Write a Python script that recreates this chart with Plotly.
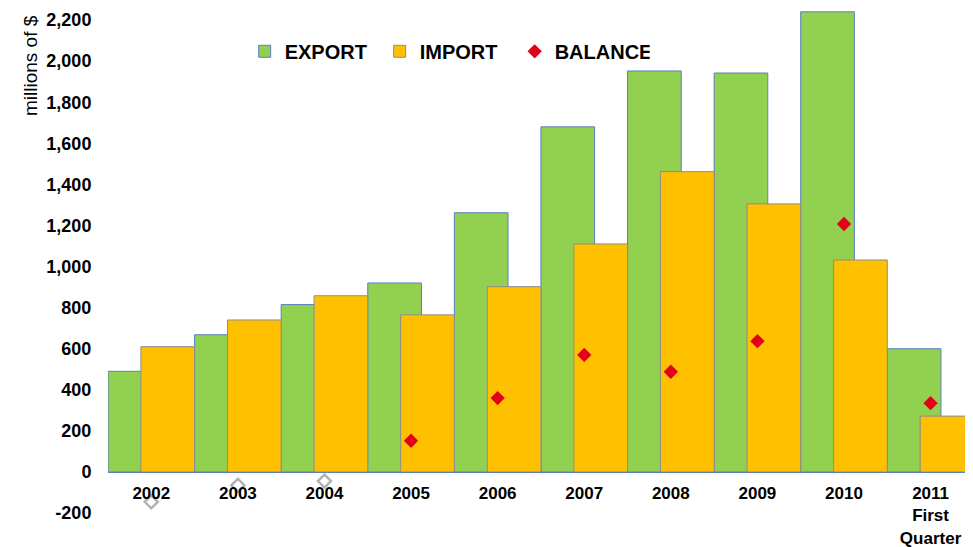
import plotly.graph_objects as go

categories = ["2002", "2003", "2004", "2005", "2006", "2007", "2008", "2009", "2010",
              "2011<br>First<br>Quarter"]
export_vals = [490, 668, 815, 920, 1262, 1680, 1952, 1942, 2240, 600]
import_vals = [610, 740, 858, 765, 902, 1110, 1462, 1305, 1032, 272]
balance_vals = [-145, -65, -44, 152, 360, 570, 488, 637, 1207, 335]
y_ticks = [-200, 0, 200, 400, 600, 800, 1000, 1200, 1400, 1600, 1800, 2000, 2200]

FONT = "Liberation Sans"
# page body has an 8px margin, so the figure is sized/offset to compensate
W, H = 965, 539
M_L, M_R, M_T, M_B = 100, 0, 0, 22
Y_MIN, Y_MAX = -258, 2258.5

pos_bal = [v if v >= 0 else None for v in balance_vals]
neg_bal = [v if v < 0 else None for v in balance_vals]

fig = go.Figure()
fig.add_trace(go.Bar(
    x=categories, y=export_vals, name="EXPORT",
    offset=-0.5, width=0.62,
    marker=dict(color="#92D050", line=dict(color="#5B7FBF", width=1)),
))
fig.add_trace(go.Bar(
    x=categories, y=import_vals, name="IMPORT",
    offset=-0.12, width=0.62,
    marker=dict(color="#FFC000", line=dict(color="#8C8C8C", width=1)),
))
fig.add_trace(go.Scatter(
    x=categories, y=pos_bal, name="BALANCE", mode="markers",
    marker=dict(symbol="diamond", size=11, color="#E2001A"),
))
fig.add_trace(go.Scatter(
    x=categories, y=neg_bal, name="BALANCE (neg)", mode="markers", showlegend=False,
    marker=dict(symbol="diamond", size=10, color="white",
                line=dict(color="#B3B3B3", width=2.5)),
))

plot_w = W - M_L - M_R
plot_h = H - M_T - M_B
zero_pos = (0 - Y_MIN) / (Y_MAX - Y_MIN)

fig.update_layout(
    width=W, height=H,
    margin=dict(l=M_L, r=M_R, t=M_T, b=M_B, autoexpand=False),
    paper_bgcolor="white", plot_bgcolor="white",
    barmode="overlay",
    font=dict(family=FONT, color="black"),
    showlegend=True,
    legend=dict(
        orientation="h", x=0.158, y=0.954, xanchor="left", yanchor="top",
        font=dict(family=FONT, size=20, weight="bold", color="black"),
        bgcolor="rgba(0,0,0,0)", entrywidth=90, entrywidthmode="pixels",
        traceorder="normal",
    ),
    xaxis=dict(
        type="category", range=[-0.5, 9.49],
        anchor="free", position=zero_pos,
        showgrid=False, zeroline=False,
        showline=True, linecolor="#5B7FBF", linewidth=1,
        ticks="outside", ticklen=6, tickcolor="rgba(0,0,0,0)",
        tickfont=dict(family=FONT, size=17, weight="bold", color="black"),
        automargin=False,
    ),
    yaxis=dict(
        range=[Y_MIN, Y_MAX], showgrid=False, zeroline=False, showline=False,
        tickvals=y_ticks, ticktext=[f"{v:,}" for v in y_ticks],
        ticks="outside", ticklen=12, tickcolor="rgba(0,0,0,0)",
        tickfont=dict(family=FONT, size=18, weight="bold", color="black"),
        automargin=False,
    ),
    annotations=[dict(
        text="millions of $", textangle=-90, showarrow=False,
        xref="paper", yref="paper",
        x=(22 - M_L) / plot_w, y=1 - (58 - M_T) / plot_h,
        xanchor="center", yanchor="middle",
        font=dict(family=FONT, size=19, color="black"),
    )],
)

fig.write_html("out.html")
